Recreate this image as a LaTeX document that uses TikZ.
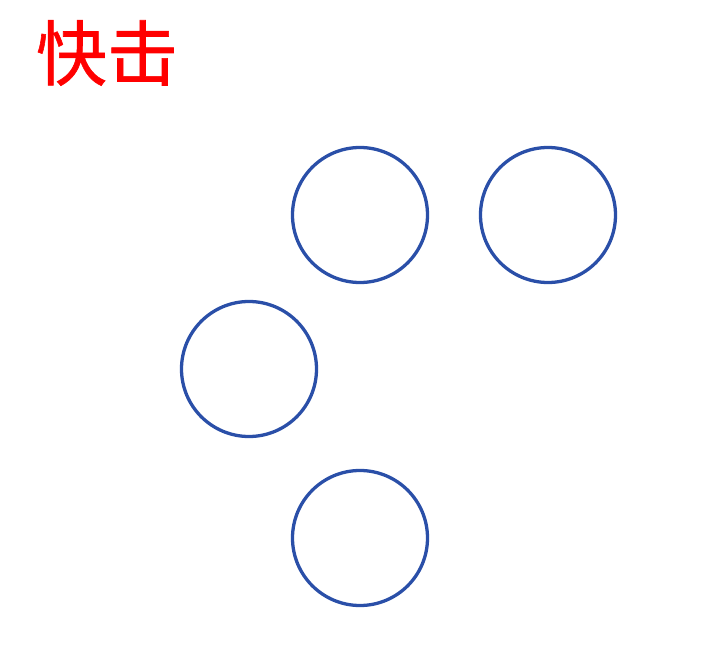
\documentclass[tikz,border=0pt]{standalone}
\usepackage{fontspec}
\newfontfamily\cjk[FakeBold=0.8]{Noto Sans CJK SC}
\usepackage{xcolor}
\definecolor{cRing}{HTML}{2A4FA8}
\definecolor{cTitle}{HTML}{FF0000}
\usepackage{tikz}
\usetikzlibrary{positioning}
\tikzset{
  node-ring/.style={draw=cRing,line width=3.3pt,circle,minimum size=135pt,
    inner sep=0pt},
  node-title/.style={text=cTitle,font=\cjk\fontsize{71}{73}\selectfont,
    inner sep=0pt},
}
\begin{document}
\begin{tikzpicture}[x=1pt,y=-1pt]
  \useasboundingbox (0,0) rectangle (707,660);
  \node[node-title] (title) at (107,53) {快击};
  \node[node-ring] (r1) at (360,215) {};
  \node[node-ring] (r2) at (548,215) {};
  \node[node-ring] (r3) at (249,369) {};
  \node[node-ring] (r4) at (360,538) {};
\end{tikzpicture}
\end{document}
